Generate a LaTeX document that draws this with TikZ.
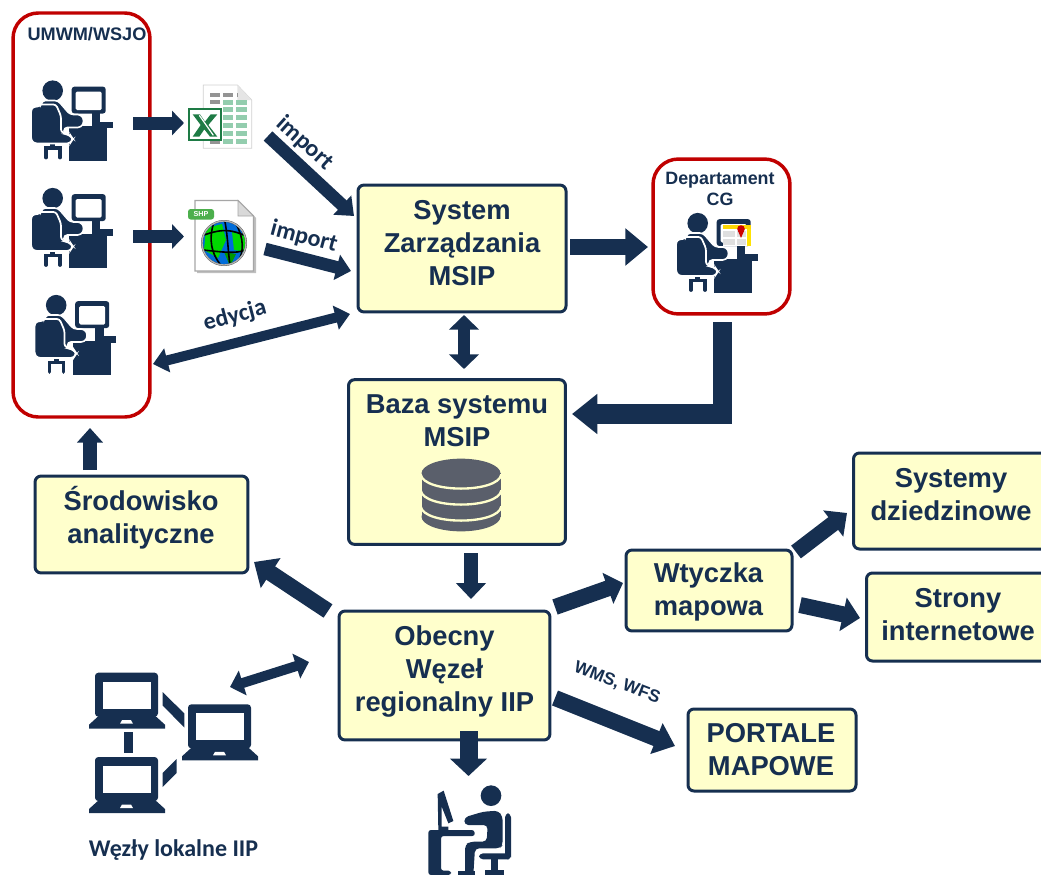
\documentclass[tikz,border=0pt]{standalone}
\usepackage{fontspec}
\setmainfont{Liberation Sans}
\newfontfamily\carl{Carlito}
\usetikzlibrary{arrows.meta}
\definecolor{navy}{HTML}{162F50}
\definecolor{boxfill}{HTML}{FFFFCC}
\definecolor{redline}{HTML}{C00000}
\definecolor{xlgreen}{HTML}{1E7B45}
\definecolor{xlcell}{HTML}{93CDAE}
\definecolor{dbgray}{HTML}{5A5F6B}
\tikzset{
  x=0.75pt,y=-0.75pt,
  box/.style={draw=navy,fill=boxfill,line width=2.25pt,rounded corners=4.5pt,inner sep=0pt},
  boxtext/.style={text=navy,align=center,inner sep=0pt,font=\fontsize{20.5}{25}\selectfont\bfseries},
  redbox/.style={draw=redline,line width=2.6pt,rounded corners=19pt,fill=white,inner sep=0pt},
  barrow/.style n args={3}{draw=navy,line width=#1pt,-{Triangle[length=#3pt,width=#2pt]}},
  dbarrow/.style n args={3}{draw=navy,line width=#1pt,{Triangle[length=#3pt,width=#2pt]}-{Triangle[length=#3pt,width=#2pt]}},
  lbl/.style={text=navy,font=\carl\fontsize{18}{20}\selectfont\bfseries,inner sep=0pt},
  small/.style={text=navy,inner sep=0pt,align=center},
  worker/.pic={
    % desk
    \fill[navy] (60.7,41.7) rectangle (81.7,48.3);
    \fill[navy] (38.3,46) rectangle (76.3,80.5);
    % monitor
    \fill[navy,rounded corners=2pt] (40.7,6.7) rectangle (74.7,33.5);
    \fill[white,rounded corners=1pt] (44.7,11.7) rectangle (70.7,30);
    \fill[navy] (60.7,33) rectangle (69,43);
    % chair
    \draw[navy,line width=2.8pt,line cap=round] (15,77.5) -- (15,68) -- (29,68) -- (29,77.5);
    \fill[navy] (19,62) rectangle (24,68);
    % silhouette
    \fill[navy] (21.7,10.7) circle (10.3);
    \filldraw[navy,draw=white,line width=1.2pt,rounded corners=2.5pt]
      (3,26.5) -- (10,26.5) -- (11,20.5) -- (27,20.5) -- (39,34.5) -- (50,34.5) -- (53.5,41) -- (50,47.5) -- (33,47.5)
      -- (33,54.5) -- (39,54.5) -- (42,59) -- (39,63.5) -- (3,63.5) -- (0,60) -- (0,29) -- cycle;
    \draw[white,line width=1.3pt,line join=round,line cap=round,rounded corners=2pt] (10,24.5) -- (25,24.5) -- (30,36) -- (30,52) -- (38,55) -- (41,58);
  },
  laptop/.pic={
    \fill[navy,rounded corners=2.5pt] (6,0) rectangle (69,44);
    \fill[white] (14,9) rectangle (62,36);
    \fill[navy] (11,42) -- (65,42) -- (76,52) -- (76,56) -- (0,56) -- (0,52) -- cycle;
    \fill[white] (31,51) -- (33,47.5) -- (42,47.5) -- (44,51) -- cycle;
  }
}
\begin{document}
\begin{tikzpicture}
\useasboundingbox (0,0) rectangle (1041,874);
\clip (0,0) rectangle (1041,874);
% red containers
\node[redbox,minimum width=102.7pt,minimum height=303pt] (umwm) at (81.5,215) {};
\node[redbox,minimum width=102.7pt,minimum height=116.2pt] (dept) at (721.5,236.5) {};
\node[small,font=\fontsize{13.6}{15}\selectfont\bfseries] (umwmt) at (87,34) {UMWM/WSJO};
\node[small,font=\fontsize{13.4}{15.7}\selectfont\bfseries] (deptt) at (720,188.5) {Departament\\CG};
% workers
\pic at (31,80) {worker};
\pic at (31,187.5) {worker};
\pic at (34.5,294.5) {worker};
\begin{scope}[shift={(676,212.5)},scale=1.05]
  \pic {worker};
\end{scope}
% map on Department screen
\fill[white] (722.5,225) rectangle (751,246);
\fill[yellow!75!orange] (722.5,225) rectangle (751,229);
\fill[yellow!85!orange] (747,229) rectangle (751,246);
\fill[gray!25] (723,231) rectangle (746,245);
\draw[white,line width=0.8pt] (736,229) -- (736,246) (723,238) -- (747,238);
\fill[red!80!black] (741,229) circle (3.8);
\fill[red!80!black] (738,231) -- (744,231) -- (741,238) -- cycle;
% excel icon
\begin{scope}[shift={(180,80)},x=0.25pt,y=-0.25pt]
  \fill[white,draw=black!18,line width=0.6pt] (70,15) -- (172,15) -- (215,60) -- (215,205) -- (70,205) -- cycle;
  \fill[black!10] (172,15) -- (215,60) -- (172,60) -- cycle;
  \foreach \x in {90,130} \fill[black!42] (\x,38) rectangle +(30,14);
  \fill[black!42] (170,38) rectangle +(4,14);
  \fill[black!42] (90,60) rectangle +(30,12);
  \fill[black!42] (90,180) rectangle +(30,12);
  \foreach \y in {60,82,105,128,152,178} {
    \fill[xlcell] (130,\y) rectangle +(30,15);
    \fill[xlcell] (168,\y) rectangle +(32,15);
  }
  \fill[white,draw=xlgreen,line width=1.6pt] (27,87) rectangle (123,181);
  \fill[xlgreen] (38,103) -- (60,103) -- (75,125) -- (92,103) -- (112,103) -- (85,135) -- (112,170) -- (90,170) -- (73,148) -- (58,170) -- (38,170) -- (62,135) -- cycle;
  \draw[white,line width=0.9pt] (58,106) -- (100,166);
\end{scope}
% shp icon
\begin{scope}
  \fill[black!25] (197,202) -- (240,202) -- (256,218) -- (256,273) -- (197,273) -- cycle;
  \fill[white,draw=black!35,line width=0.8pt] (195,200.5) -- (238,200.5) -- (253.5,216) -- (253.5,271) -- (195,271) -- cycle;
  \fill[black!15,draw=black!35,line width=0.6pt] (238,200.5) -- (253.5,216) -- (238,216) -- cycle;
  \fill[green!55!black!70,rounded corners=2pt] (188,209) rectangle (214,219.5);
  \node[font=\fontsize{5.4}{6}\selectfont\bfseries,text=white,inner sep=0pt] (shplabel) at (201,214.3) {SHP};
  \fill[black!70] (224,243) circle (23);
  \begin{scope}
    \clip (224,243) circle (21);
    \fill[blue!50!cyan!85!black] (224,243) circle (21);
    \fill[green!85!black] (206,228) -- (222,224) -- (226,240) -- (218,258) -- (204,250) -- cycle;
    \fill[green!85!black] (232,232) -- (246,236) -- (246,252) -- (234,250) -- cycle;
    \fill[green!60!black] (224,252) -- (236,254) -- (230,266) -- cycle;
    \draw[black,line width=1.2pt] (204,235) .. controls (224,228) and (232,230) .. (246,236);
    \draw[black,line width=1.2pt] (203,250) .. controls (222,252) and (236,254) .. (245,250);
    \draw[black,line width=1.2pt] (214,222) .. controls (208,240) and (212,254) .. (220,264);
    \draw[black,line width=1.2pt] (225,222) .. controls (228,238) and (228,252) .. (230,265);
    \draw[black,line width=1.2pt] (236,224) .. controls (244,238) and (244,252) .. (238,262);
  \end{scope}
  \draw[black!30,line width=1pt] (224,243) circle (22);
\end{scope}
% boxes
\node[box,minimum width=156pt,minimum height=95.2pt] (sys) at (462,248.5) {};
\node[boxtext] (syst) at (462,243) {System\\Zarządzania\\MSIP};
\node[box,minimum width=162.7pt,minimum height=123.5pt] (baza) at (457,462) {};
\node[boxtext] (bazat) at (457,421) {Baza systemu\\MSIP};
\node[box,minimum width=159.7pt,minimum height=72.7pt] (srod) at (141.5,524.5) {};
\node[boxtext] (srodt) at (141,518) {Środowisko\\analityczne};
\node[box,minimum width=158.2pt,minimum height=96.7pt] (obec) at (444.5,675.5) {};
\node[boxtext] (obect) at (444.5,671.5) {Obecny\\Węzeł\\regionalny IIP};
\node[box,minimum width=124.5pt,minimum height=60.7pt] (wty) at (709,590.5) {};
\node[boxtext] (wtyt) at (708.5,592) {Wtyczka\\mapowa};
\node[box,minimum width=160pt,minimum height=72pt,anchor=west] (sysd) at (852,501) {};
\node[boxtext] (sysdt) at (951,494.5) {Systemy\\dziedzinowe};
\node[box,minimum width=150pt,minimum height=66pt,anchor=west] (stro) at (865,617) {};
\node[boxtext] (strot) at (958,614.5) {Strony\\internetowe};
\node[box,minimum width=126pt,minimum height=61.5pt] (port) at (772,750) {};
\node[boxtext] (portt) at (771,749.5) {PORTALE\\MAPOWE};
% database
\begin{scope}[shift={(400,445)},x=0.25pt,y=-0.25pt]
  \fill[dbgray] (183,85) ellipse (118.5 and 44);
  \fill[dbgray] (64.5,85) rectangle (301.5,215);
  \fill[dbgray] (183,215) ellipse (118.5 and 44);
  \foreach \y in {88,136,184}
    \draw[boxfill,line width=1.75pt] (62,\y) .. controls (70,\y+57) and (296,\y+57) .. (304,\y);
\end{scope}
% arrows
\coordinate (a1s) at (133,123); \coordinate (a1e) at (184,123);
\draw[barrow={9.75}{18}{9}] (a1s) -- (a1e);
\coordinate (a2s) at (133,236.5); \coordinate (a2e) at (184,236.5);
\draw[barrow={9.75}{18}{9}] (a2s) -- (a2e);
\coordinate (i1s) at (268,136); \coordinate (i1e) at (354,216);
\draw[barrow={9.5}{19}{12}] (i1s) -- (i1e);
\coordinate (i2s) at (265,249); \coordinate (i2e) at (351,271);
\draw[barrow={9.5}{19}{11}] (i2s) -- (i2e);
\coordinate (edl) at (153,364); \coordinate (edr) at (350,314);
\draw[dbarrow={7.5}{18}{11}] (edl) -- (edr);
\coordinate (s2d) at (570,247);
\coordinate (s2e) at (648,247);
\draw[barrow={12}{27}{17}] (s2d) -- (s2e);
\coordinate (sbt) at (464,315); \coordinate (sbb) at (464,369);
\draw[dbarrow={9}{22}{11}] (sbt) -- (sbb);
\coordinate (dbs) at (722.5,322); \coordinate (dbe) at (572,414);
\draw[barrow={14.5}{29}{19}] (dbs) |- (dbe);
\coordinate (bos) at (471,553); \coordinate (boe) at (471,599);
\draw[barrow={10.5}{22}{12}] (bos) -- (boe);
\coordinate (ows) at (555,607); \coordinate (owe) at (623,583);
\draw[barrow={12}{24}{12}] (ows) -- (owe);
\coordinate (wss) at (796,552); \coordinate (wse) at (847,513);
\draw[barrow={12}{24}{13}] (wss) -- (wse);
\coordinate (wis) at (800,605); \coordinate (wie) at (860,618);
\draw[barrow={12}{25}{13}] (wis) -- (wie);
\coordinate (ops) at (555,698); \coordinate (ope) at (675,746);
\draw[barrow={12}{24}{15}] (ops) -- (ope);
\coordinate (oss) at (328,611); \coordinate (ose) at (254,562);
\draw[barrow={12}{26}{15}] (oss) -- (ose);
\coordinate (sus) at (90,470); \coordinate (sue) at (90,428);
\draw[barrow={10.5}{19}{11}] (sus) -- (sue);
\coordinate (oll) at (230,687); \coordinate (olr) at (309,662);
\draw[dbarrow={7.5}{19}{10}] (oll) -- (olr);
\coordinate (ops2) at (468.5,731); \coordinate (ope2) at (468.5,776);
\draw[barrow={13.5}{27}{13}] (ops2) -- (ope2);
% arrow labels
\node[lbl,rotate=-42] (li1) at (305,143) {import};
\node[lbl,rotate=-15] (li2) at (304,237) {import};
\node[lbl,rotate=15] (led) at (235,316) {edycja};
\node[small,rotate=-21,font=\fontsize{13}{14}\selectfont\bfseries] (lwms) at (617,683) {WMS, WFS};
% laptops
\pic at (89,672.7) {laptop};
\pic at (89,757) {laptop};
\pic at (182,704.3) {laptop};
\fill[navy] (124,732) rectangle (132.5,753);
\fill[navy] (162.7,692) -- (184.3,713.5) -- (184.3,727.5) -- (162.7,705.5) -- cycle;
\fill[navy] (176.7,759) -- (176.7,773) -- (162.7,787) -- (162.7,773) -- cycle;
\node[lbl,font=\carl\fontsize{18}{20}\selectfont\bfseries] (lokal) at (173.5,850) {Węzły lokalne IIP};
% user at bottom
\begin{scope}[shift={(415,780)},x=0.25pt,y=-0.25pt]
  \fill[navy] (228,47) circle (31);
  \fill[navy,rounded corners=3pt] (148,112) -- (205,95) -- (250,92) -- (263,110) -- (263,195) -- (255,205) -- (180,205) -- (175,285) -- (150,285) -- (150,195) -- (165,185) -- (215,185) -- (218,135) -- (148,135) -- cycle;
  \fill[navy] (130,272) rectangle (180,285);
  \fill[navy,rounded corners=3pt] (270,100) rectangle (288,238);
  \fill[navy,rounded corners=3pt] (192,220) rectangle (288,238);
  \fill[navy] (228,238) rectangle (248,272);
  \fill[navy] (210,270) rectangle (268,285);
  \fill[navy,rounded corners=2pt] (40,150) -- (178,150) -- (180,168) -- (78,168) -- (78,272) -- (108,272) -- (108,285) -- (40,285) -- cycle;
  \fill[navy] (68,42) -- (86,32) -- (115,123) -- (100,130) -- (80,80) -- (80,140) -- (100,140) -- (100,150) -- (70,150) -- cycle;
\end{scope}
\end{tikzpicture}
\end{document}
